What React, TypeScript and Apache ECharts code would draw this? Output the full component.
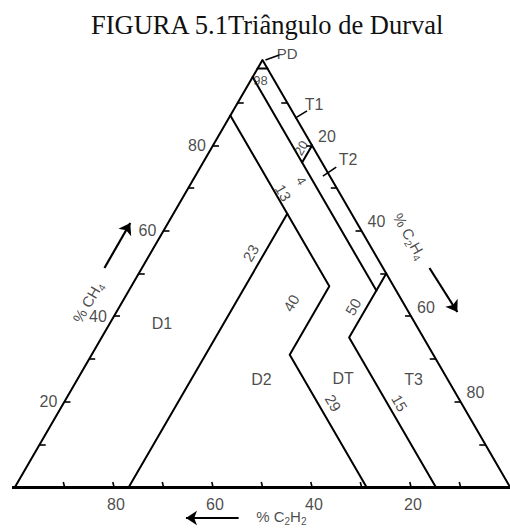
import React, { useEffect, useRef } from 'react';
import * as echarts from 'echarts';

const TITLE = 'FIGURA 5.1Triângulo de Durval';

// Zone limits of the Duval triangle (gas percentages)
const PD_CH4 = 98;
const T1_C2H4 = 20;
const T2_C2H4 = 50;
const T_C2H2 = 4;
const T3_C2H2 = 15;
const D1_C2H2 = 13;
const D1_C2H4 = 23;
const D2_C2H4 = 40;
const D2_C2H2 = 29;

// Edge scales
const TICKS = [10, 20, 30, 40, 50, 60, 70, 80, 90];
const TICK_LABELS = [20, 40, 60, 80];

// Zone names
const ZONES = ['PD', 'T1', 'T2', 'T3', 'D1', 'D2', 'DT'];

// Plot box in pixels
const CHART_W = 510;
const CHART_H = 529;
const GRID_LEFT = 15;
const GRID_RIGHT = -3;
const GRID_TOP = 60;
const GRID_BOTTOM = 42;
const PLOT_W = CHART_W - GRID_LEFT - GRID_RIGHT;
const PLOT_H = CHART_H - GRID_TOP - GRID_BOTTOM;
const PX_X = 100 / PLOT_W;
const PX_Y = 100 / PLOT_H;

// Ternary (C2H4 %, C2H2 %) -> cartesian; CH4 is the remainder
const p = (c2h4: number, c2h2: number): [number, number] => {
  const ch4 = 100 - c2h4 - c2h2;
  return [c2h4 + ch4 / 2, ch4];
};

const FONT = 'Liberation Sans, Arial, sans-serif';
const TEXT_COLOR = '#1a1a1a';

export default function App() {
  const ref = useRef<HTMLDivElement>(null);

  useEffect(() => {
    if (!ref.current) return;
    const chart = echarts.init(ref.current, undefined, { renderer: 'svg' });

    const outline = [p(0, 100), p(0, 0), p(100, 0)];
    const boundaries = [
      [p(0, 100 - PD_CH4), p(100 - PD_CH4, 0)],
      [p(0, T_C2H2), p(T2_C2H4, T_C2H2)],
      [p(T1_C2H4, 0), p(T1_C2H4, T_C2H2)],
      [p(T2_C2H4, 0), p(T2_C2H4, T3_C2H2), p(100 - T3_C2H2, T3_C2H2)],
      [
        p(0, D1_C2H2),
        p(D2_C2H4, D1_C2H2),
        p(D2_C2H4, D2_C2H2),
        p(100 - D2_C2H2, D2_C2H2),
      ],
      [p(D1_C2H4, D1_C2H2), p(D1_C2H4, 100 - D1_C2H4)],
    ];

    const ticks: [number, number][][] = [];
    TICKS.forEach((v) => {
      const a = p(0, 100 - v); // CH4 = v on the left edge
      ticks.push([a, [a[0] + 6 * PX_X, a[1]]]);
      const b = p(v, 0); // C2H4 = v on the right edge
      ticks.push([b, [b[0] - 6 * PX_X, b[1]]]);
      const c = p(100 - v, v); // C2H2 = v on the base
      ticks.push([c, [c[0] - 1.2 * PX_X, c[1] + 5 * PX_Y]]);
    });

    const txt = (
      text: string,
      value: [number, number],
      extra: Record<string, unknown> = {}
    ) => ({
      value,
      label: {
        show: true,
        formatter: text,
        position: 'inside',
        align: 'center',
        verticalAlign: 'middle',
        fontFamily: FONT,
        fontSize: 16,
        color: TEXT_COLOR,
        ...extra,
      },
    });

    const rich = {
      b: { fontFamily: FONT, fontSize: 15, color: TEXT_COLOR, lineHeight: 20 },
      s: {
        fontFamily: FONT,
        fontSize: 10,
        color: TEXT_COLOR,
        lineHeight: 20,
        verticalAlign: 'bottom',
      },
    };

    const labels: any[] = [];
    TICK_LABELS.forEach((v) => {
      labels.push(txt(String(v), p(0, 100 - v), { offset: [-16, 0] }));
      labels.push(txt(String(v), p(v, 0), { offset: [15, -9] }));
      labels.push(txt(String(v), p(100 - v, v), { offset: [2, 17] }));
    });

    // Zone names
    labels.push(txt(ZONES[4], [29.7, 38.2]));
    labels.push(txt(ZONES[5], [49.8, 25.1]));
    labels.push(txt(ZONES[6], [66.3, 25.3]));
    labels.push(txt(ZONES[3], [80.5, 25.1]));
    labels.push(txt(ZONES[0], [55.0, 101.6], { fontSize: 15 }));
    labels.push(txt(ZONES[1], [60.4, 89.5]));
    labels.push(txt(ZONES[2], [67.3, 76.6]));

    // Boundary values written along the lines
    labels.push(txt(String(PD_CH4), [49.6, 95.3], { fontSize: 13 }));
    labels.push(txt(String(T1_C2H4), [57.8, 79.4], { fontSize: 13, rotate: 60 }));
    labels.push(txt(String(T_C2H2), [57.8, 71.7], { fontSize: 13, rotate: -60 }));
    labels.push(txt(String(D1_C2H2), [54.2, 68.9], { fontSize: 15, rotate: -60 }));
    labels.push(txt(String(D1_C2H4), [47.6, 54.8], { fontSize: 15, rotate: 60 }));
    labels.push(txt(String(D2_C2H4), [55.8, 43.1], { fontSize: 15, rotate: 60 }));
    labels.push(txt(String(T2_C2H4), [68.3, 42.2], { fontSize: 15, rotate: 60 }));
    labels.push(txt(String(D2_C2H2), [64.3, 19.7], { fontSize: 15, rotate: -60 }));
    labels.push(txt(String(T3_C2H2), [77.7, 19.7], { fontSize: 15, rotate: -60 }));

    // Axis names
    labels.push(
      txt('{b|% CH}{s|4}', [14.7, 43.3], { rotate: 60, rich })
    );
    labels.push(
      txt('{b|% C}{s|2}{b|H}{s|4}', [79.7, 58.8], { rotate: -60, rich })
    );
    labels.push(txt('{b|% C}{s|2}{b|H}{s|2}', [53.8, -7.0], { rich }));

    const arrows = [
      [[18.07, 51.29], [23.29, 61.83]],
      [[83.73, 51.29], [89.36, 40.98]],
      [[45.18, -7.26], [34.54, -7.26]],
    ];

    const leaders = [
      [[50.6, 100], [53.4, 101.2]],
      [[56.6, 86.4], [59.0, 88.1]],
      [[62.2, 72.8], [64.9, 74.9]],
    ];

    const seg = (coords: number[][]) => ({ coords });

    const option: echarts.EChartsOption = {
      animation: false,
      backgroundColor: '#ffffff',
      title: {
        text: TITLE,
        left: 86,
        top: 6,
        textStyle: {
          fontFamily: 'Liberation Serif, Times New Roman, serif',
          fontSize: 26.5,
          fontWeight: 'normal',
          color: '#111',
        },
      },
      grid: {
        left: GRID_LEFT,
        right: GRID_RIGHT,
        top: GRID_TOP,
        bottom: GRID_BOTTOM,
      },
      xAxis: { type: 'value', min: 0, max: 100, show: false },
      yAxis: { type: 'value', min: 0, max: 100, show: false },
      series: [
        {
          type: 'lines',
          coordinateSystem: 'cartesian2d',
          polyline: true,
          clip: false,
          silent: true,
          lineStyle: { color: '#000', width: 2, opacity: 1, join: 'round', cap: 'round' } as any,
          data: [seg(outline), ...boundaries.map(seg)],
        },
        {
          type: 'lines',
          coordinateSystem: 'cartesian2d',
          clip: false,
          silent: true,
          lineStyle: { color: '#000', width: 3.2, opacity: 1 },
          data: [seg([[-0.6, 0], p(100, 0)])],
        },
        {
          type: 'lines',
          coordinateSystem: 'cartesian2d',
          clip: false,
          silent: true,
          lineStyle: { color: '#000', width: 1.6, opacity: 1 },
          data: [...ticks.map(seg), ...leaders.map(seg)],
        },
        {
          type: 'lines',
          coordinateSystem: 'cartesian2d',
          clip: false,
          silent: true,
          symbol: ['none', 'arrow'],
          symbolSize: 11,
          lineStyle: { color: '#000', width: 2.2, opacity: 1 },
          data: arrows.map(seg),
        },
        {
          type: 'scatter',
          symbolSize: 0,
          clip: false,
          silent: true,
          data: labels,
        },
      ],
    };

    chart.setOption(option);
    return () => chart.dispose();
  }, []);

  return (
    <div
      ref={ref}
      style={{
        position: 'fixed',
        left: 0,
        top: 0,
        width: CHART_W,
        height: CHART_H,
      }}
    />
  );
}
